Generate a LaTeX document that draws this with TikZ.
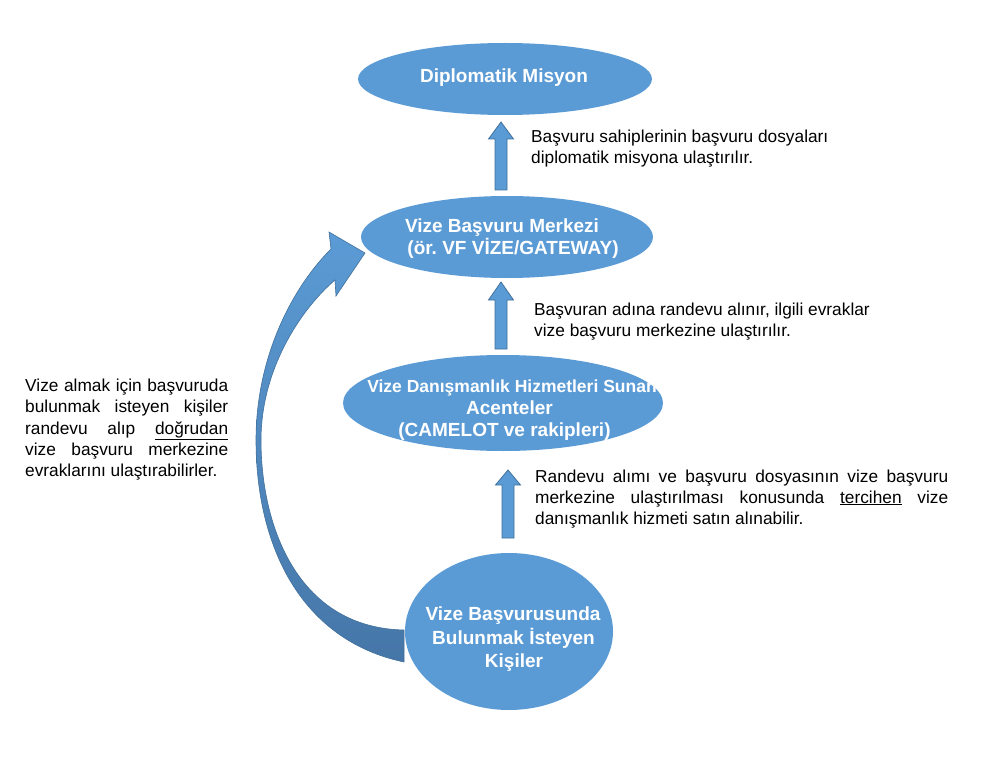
\documentclass[tikz,border=0pt]{standalone}
\usepackage{fontspec}
\setmainfont{Liberation Sans}
\usetikzlibrary{shapes.geometric}
\definecolor{blu}{HTML}{5B9BD5}
\definecolor{bluedge}{HTML}{41719C}
\definecolor{bludark}{HTML}{4676A8}
\newcommand\upblock[4]{% x, tip y, head-base y, bottom y
  \path[blockarr] (#1-6,#4) -- (#1-6,#3) -- (#1-12.5,#3) -- (#1,#2) -- (#1+12.5,#3) -- (#1+6,#3) -- (#1+6,#4) -- cycle;}
\frenchspacing
\begin{document}
\begin{tikzpicture}[x=1pt,y=-1pt,
  oval/.style={ellipse, fill=blu, draw=none, inner sep=0pt},
  title/.style={anchor=base, text=white, font=\fontsize{19}{23}\selectfont\bfseries, inner sep=0pt},
  body/.style={anchor=base west, font=\fontsize{17.3}{20.7}\selectfont, inner sep=0pt},
  blockarr/.style={fill=blu, draw=bluedge, line width=0.8pt, line join=miter},
  bigarrow/.style={top color=blu, bottom color=bludark, draw=bluedge, line width=0.6pt}]
\useasboundingbox[fill=white] (0,0) rectangle (991,757);

% curved arrow
\path[bigarrow] (404,662) .. controls (300,640) and (256,545) .. (256,440)
  .. controls (256,360) and (290,290) .. (331,249)
  -- (329,232) -- (365,253) -- (336,296) -- (335,280)
  .. controls (300,310) and (261,370) .. (261,440)
  .. controls (261,530) and (300,628) .. (404,630) -- cycle;

% ellipses
\node[oval, minimum width=294pt, minimum height=72pt] (dm) at (505,79) {};
\node[oval, minimum width=292pt, minimum height=82pt] (vbm) at (507,237) {};
\node[oval, minimum width=320pt, minimum height=96pt] (ac) at (503,403) {};
\node[oval, minimum width=208pt, minimum height=157pt] (ks) at (509,631.5) {};

% block arrows
\upblock{501}{122}{139}{190}
\upblock{501}{282}{300}{349}
\upblock{508}{470}{485}{538}

% ellipse texts
\node[title] (t1) at (504,83) {Diplomatik Misyon};
\node[title] (t2a) at (502,232) {Vize Başvuru Merkezi};
\node[title] (t2b) at (513,254) {(ör. VF VİZE/GATEWAY)};
\node[title, font=\fontsize{17.5}{23}\selectfont\bfseries] (t3a) at (512,392) {Vize Danışmanlık Hizmetleri Sunan};
\begin{scope}[every node/.append style={font=\fontsize{18}{23}\selectfont\bfseries}]
\node[title] (t3b) at (509.5,414) {Acenteler};
\node[title] (t3c) at (504.5,436) {(CAMELOT ve rakipleri)};
\end{scope}
\node[title] (t4a) at (513,620) {Vize Başvurusunda};
\node[title] (t4b) at (513.5,644) {Bulunmak İsteyen};
\node[title] (t4c) at (514,667) {Kişiler};

% text A
\node[body] (a1) at (531,143) {Başvuru sahiplerinin başvuru dosyaları};
\node[body] (a2) at (531,164) {diplomatik misyona ulaştırılır.};
% text B
\node[body] (b1) at (534,315) {Başvuran adına randevu alınır, ilgili evraklar};
\node[body] (b2) at (534,336) {vize başvuru merkezine ulaştırılır.};
% text C
\node[body] (c1) at (535,482) {\makebox[413pt][s]{Randevu alımı ve başvuru dosyasının vize başvuru}};
\node[body] (c2) at (535,503) {\makebox[413pt][s]{merkezine ulaştırılması konusunda \underline{tercihen} vize}};
\node[body] (c3) at (535,524) {danışmanlık hizmeti satın alınabilir.};
% left text
\node[body] (l1) at (25,391) {\makebox[203pt][s]{Vize almak için başvuruda}};
\node[body] (l2) at (25,412) {\makebox[203pt][s]{bulunmak isteyen kişiler}};
\node[body] (l3) at (25,434) {\makebox[203pt][s]{randevu alıp \underline{doğrudan}}};
\node[body] (l4) at (25,455) {\makebox[203pt][s]{vize başvuru merkezine}};
\node[body] (l5) at (25,476) {evraklarını ulaştırabilirler.};
\end{tikzpicture}
\end{document}
